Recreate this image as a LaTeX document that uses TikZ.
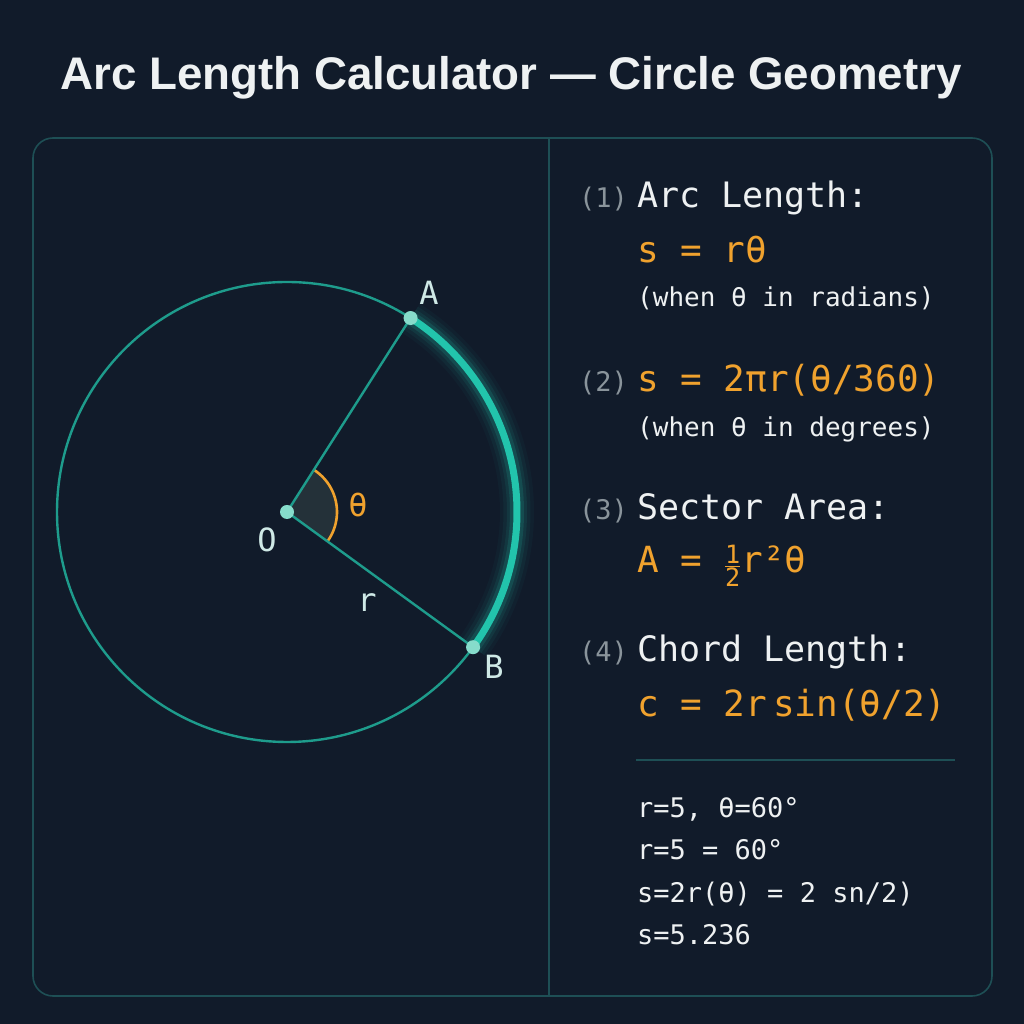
\documentclass[tikz,border=0pt]{standalone}
\usepackage{fontspec}
\usepackage{amsmath}
\setmainfont{Liberation Sans}
\setmonofont{DejaVu Sans Mono}

\definecolor{bgnavy}{HTML}{111B2A}
\definecolor{framecol}{HTML}{1E4F55}
\definecolor{circcol}{HTML}{1E9C8C}
\definecolor{arccol}{HTML}{22C4AC}
\definecolor{dotcol}{HTML}{86DCCB}
\definecolor{orangecol}{HTML}{F0A22E}
\definecolor{lblcol}{HTML}{CFE9E6}
\definecolor{txtcol}{HTML}{EEF1F2}
\definecolor{numcol}{HTML}{8A949B}
\definecolor{sectcol}{HTML}{243139}

\newcommand{\setsz}[1]{\fontsize{#1}{#1}\selectfont}

\begin{document}
\begin{tikzpicture}[x=1pt, y=1pt,
  panel/.style={draw=framecol, line width=1.6},
  spoke/.style={draw=circcol, line width=2.4},
  dot/.style={circle, fill=dotcol, inner sep=0, minimum size=14},
  lbl/.style={text=lblcol, font=\ttfamily\setsz{32}},
  num/.style={anchor=base west, inner sep=0, text=numcol, font=\ttfamily\setsz{27}},
  head/.style={anchor=base west, inner sep=0, text=txtcol, font=\ttfamily\setsz{35}},
  formula/.style={anchor=base west, inner sep=0, text=orangecol, font=\ttfamily\setsz{36}},
  note/.style={anchor=base west, inner sep=0, text=txtcol, font=\ttfamily\setsz{26}},
  calc/.style={anchor=base west, inner sep=0, text=txtcol, font=\ttfamily\setsz{27}}]

\useasboundingbox[fill=bgnavy] (0,0) rectangle (1024,1024);

\node[text=txtcol, font=\bfseries\setsz{45.7}] (title) at (511,946) {Arc Length Calculator --- Circle Geometry};

% frame and divider
\draw[panel, rounded corners=20] (33,28) rectangle (992,886);
\draw[panel] (549,886) -- (549,28);

% circle
\coordinate (O) at (287,512);
\path (O) ++(57.5:230) coordinate (A);
\path (O) ++(-36:230) coordinate (B);

\draw[circcol, line width=2.4] (O) circle (230);

\foreach \w/\op in {34/0.04, 27/0.06, 20/0.09, 14/0.15}
  \draw[arccol, line width=\w, opacity=\op] (A) arc[start angle=57.5, end angle=-36, radius=230];
\draw[arccol, line width=7] (A) arc[start angle=57.5, end angle=-36, radius=230];

\fill[sectcol] (O) -- ++(-36:50) arc[start angle=-36, end angle=57.5, radius=50] -- cycle;
\draw[orangecol, line width=2.6] (O) ++(-36:50) arc[start angle=-36, end angle=57.5, radius=50];

\draw[spoke] (O) -- (A);
\draw[spoke] (O) -- (B);

\node[dot] (dotO) at (O) {};
\node[dot] (dotA) at (A) {};
\node[dot] (dotB) at (B) {};

\node[lbl] (labA) at (429,731) {A};
\node[lbl] (labB) at (494,357) {B};
\node[lbl] (labO) at (267,484) {O};
\node[lbl] (labr) at (367,421) {r};
\node[lbl, text=orangecol] (labt) at (358,519) {θ};

% formulas
\node[num] (n1) at (579,816) {(1)};
\node[head] (h1) at (637,816) {Arc Length:};
\node[formula] (f1) at (637,761) {s = rθ};
\node[note] (w1) at (637,717) {(when θ in radians)};

\node[num] (n2) at (579,632) {(2)};
\node[formula] (f2) at (637,632) {s = 2πr(θ/360)};
\node[note] (w2) at (637,587) {(when θ in degrees)};

\node[num] (n3) at (579,504) {(3)};
\node[head] (h3) at (637,504) {Sector Area:};
\node[formula] (f3) at (637,451) {A = $\frac{\text{1}}{\text{2}}$r²θ};

\node[num] (n4) at (579,362) {(4)};
\node[head] (h4) at (637,362) {Chord Length:};
\node[formula] (f4) at (637,307) {c = 2r\,sin(θ/2)};

\draw[framecol, line width=1.6] (636,264) -- (955,264);

\node[calc] (c1) at (637,206) {r=5, θ=60°};
\node[calc] (c2) at (637,164) {r=5 = 60°};
\node[calc] (c3) at (637,121) {s=2r(θ) = 2 sn/2)};
\node[calc] (c4) at (637,79) {s=5.236};

\end{tikzpicture}
\end{document}
